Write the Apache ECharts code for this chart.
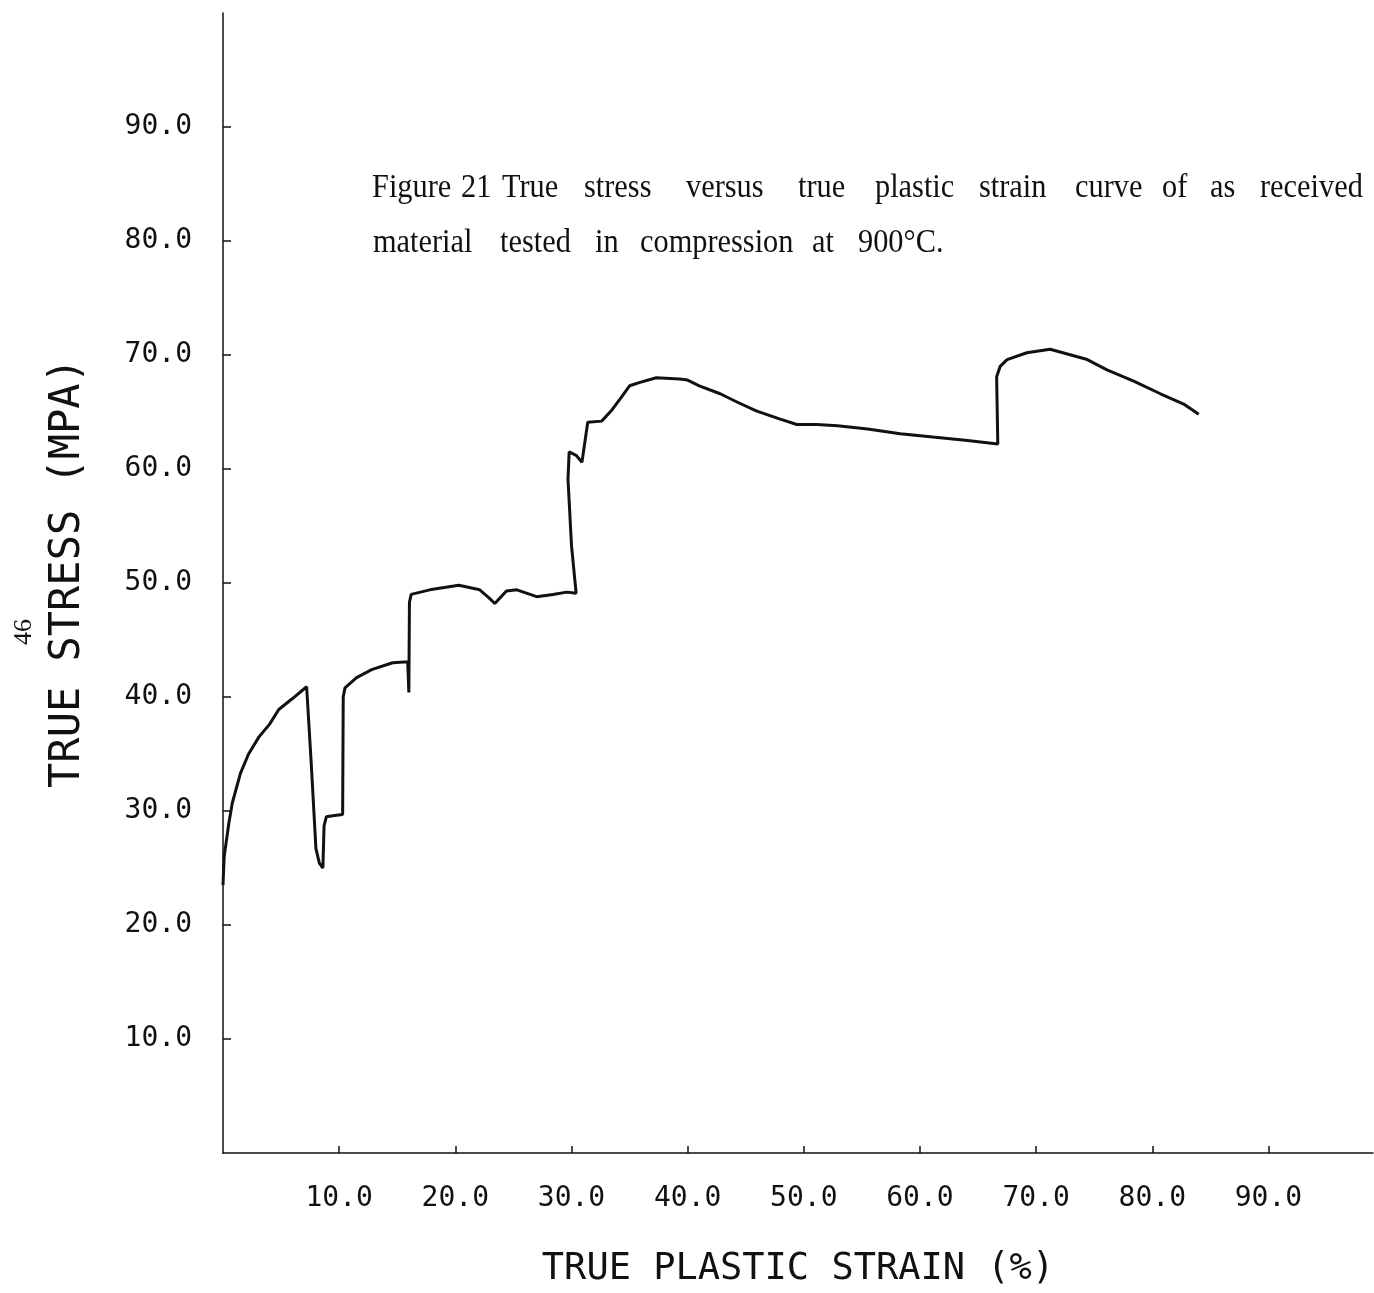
<!DOCTYPE html>
<html>
<head>
<meta charset="utf-8">
<script src="https://cdn.jsdelivr.net/npm/echarts@6/dist/echarts.min.js"></script>
<style>
html,body{margin:0;padding:0;background:#fff;}
#chart{width:1374px;height:1293px;}
</style>
</head>
<body>
<div id="chart"></div>
<script>
// ---- data ----
const strain = [0.0,0.1,0.5,0.8,1.5,2.2,3.1,4.0,4.8,5.9,7.2,7.6,8.0,8.3,8.6,8.7,8.9,9.6,10.3,10.35,10.5,11.5,12.8,14.6,15.9,16.0,16.05,16.2,17.8,20.3,22.1,22.9,23.4,24.4,25.3,27.0,28.4,29.6,30.4,30.0,29.7,29.8,30.4,30.9,31.4,32.6,33.5,34.3,35.0,35.9,37.3,39.3,40.0,41.0,42.8,44.2,45.9,47.9,49.4,51.1,52.9,55.5,58.3,61.1,64.1,66.7,66.6,66.9,67.5,69.2,71.2,72.3,74.4,76.1,78.4,80.7,82.7,84.0];
const stress = [23.5,26.0,28.9,30.7,33.3,35.0,36.5,37.6,38.9,39.8,40.9,34.1,26.7,25.4,25.0,28.7,29.5,29.6,29.7,40.0,40.8,41.7,42.4,43.0,43.1,40.4,48.3,49.0,49.4,49.8,49.4,48.7,48.2,49.3,49.4,48.8,49.0,49.2,49.1,53.3,59.1,61.5,61.2,60.6,64.1,64.2,65.2,66.3,67.3,67.6,68.0,67.9,67.8,67.3,66.6,65.9,65.1,64.4,63.9,63.9,63.8,63.5,63.1,62.8,62.5,62.2,68.1,69.0,69.6,70.2,70.5,70.2,69.6,68.7,67.7,66.6,65.7,64.8];
const xTicks = [10,20,30,40,50,60,70,80,90];
const yTicks = [10,20,30,40,50,60,70,80,90];
const xName = 'TRUE PLASTIC STRAIN (%)';
const yName = 'TRUE STRESS (MPA)';
const captionLine1 = ['Figure','21','True','stress','versus','true','plastic','strain','curve','of','as','received'];
const captionLine2 = ['material','tested','in','compression','at','900°C.'];
const pageNumber = '46';

const line1X = [372,461,502,584,686,798,875,979,1075,1162,1210,1260];
const line2X = [373,500,595,640,812,858];

const ink = '#111';
const monoFont = '"DejaVu Sans Mono", monospace';
const serifFont = '33px "Liberation Serif", serif';

const points = strain.map((s, i) => [s, stress[i]]);

const graphics = [];
captionLine1.forEach((w, i) => graphics.push({
  type: 'text', x: line1X[i], y: 188, scaleX: 0.92,
  style: { text: w, font: serifFont, fill: ink, align: 'left', verticalAlign: 'middle' }
}));
captionLine2.forEach((w, i) => graphics.push({
  type: 'text', x: line2X[i], y: 243, scaleX: 0.92,
  style: { text: w, font: serifFont, fill: ink, align: 'left', verticalAlign: 'middle' }
}));
graphics.push({
  type: 'text', x: 24, y: 632, rotation: Math.PI / 2,
  style: { text: pageNumber, font: '26px "Liberation Serif", serif', fill: ink, align: 'center', verticalAlign: 'middle' }
});

const chart = echarts.init(document.getElementById('chart'), null, { renderer: 'canvas' });
chart.setOption({
  animation: false,
  backgroundColor: '#fff',
  grid: { left: 223, right: 1, top: 13, bottom: 133, containLabel: false },
  xAxis: {
    type: 'value', min: 0, max: 99, interval: 10,
    name: xName, nameLocation: 'middle', nameGap: 98,
    nameTextStyle: { fontFamily: monoFont, fontSize: 37, color: ink },
    axisLine: { show: true, lineStyle: { color: ink, width: 1.5 } },
    axisTick: { show: true, inside: true, length: 7, customValues: xTicks, lineStyle: { color: ink, width: 1.5 } },
    axisLabel: { customValues: xTicks, margin: 32, fontFamily: monoFont, fontSize: 28, color: ink,
      formatter: v => v.toFixed(1) },
    splitLine: { show: false }
  },
  yAxis: {
    type: 'value', min: 0, max: 100, interval: 10,
    name: yName, nameLocation: 'middle', nameGap: 134, nameRotate: 90,
    nameTextStyle: { fontFamily: monoFont, fontSize: 42, color: ink, padding: [0, 0, 0, 20] },
    axisLine: { show: true, lineStyle: { color: ink, width: 1.5 } },
    axisTick: { show: true, inside: true, length: 8, customValues: yTicks, lineStyle: { color: ink, width: 1.5 } },
    axisLabel: { customValues: yTicks, margin: 31, fontFamily: monoFont, fontSize: 28, color: ink,
      formatter: v => v.toFixed(1) },
    splitLine: { show: false }
  },
  series: [{
    type: 'line',
    data: points,
    showSymbol: false,
    symbol: 'none',
    smooth: false,
    lineStyle: { color: ink, width: 3 },
    z: 3
  }],
  graphic: graphics
});
</script>
</body>
</html>
